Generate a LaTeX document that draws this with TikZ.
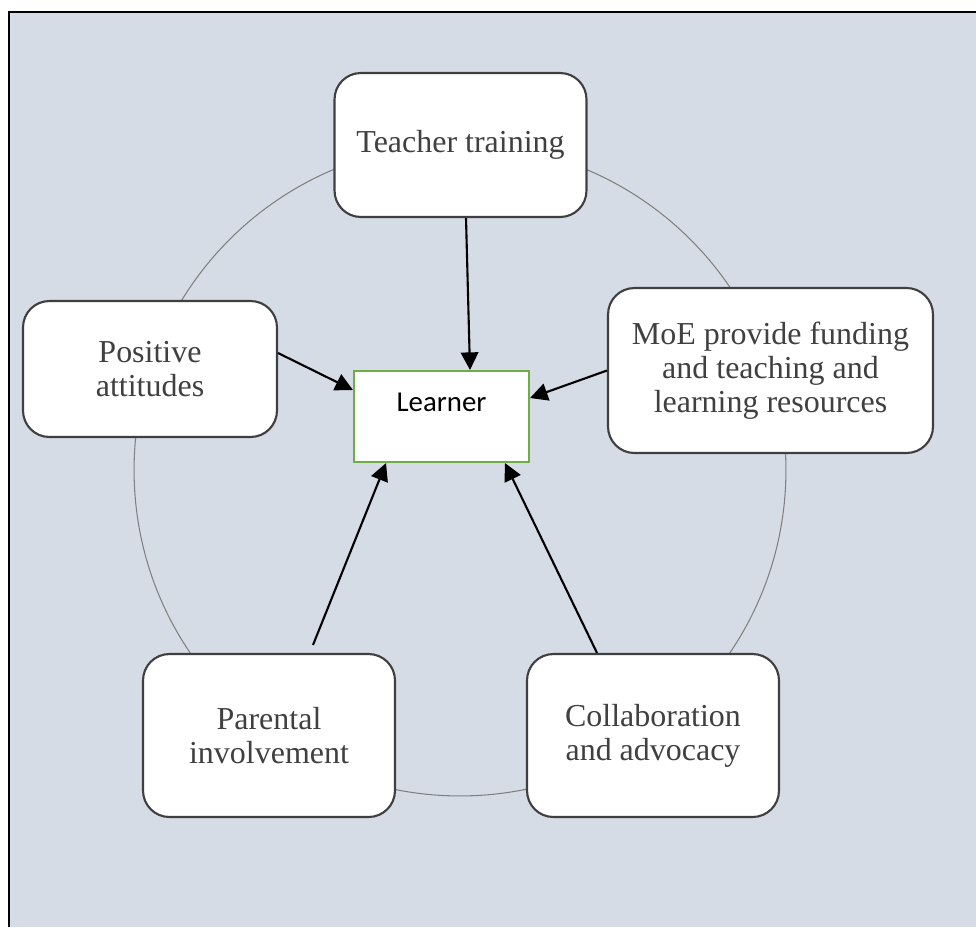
\documentclass[tikz,border=0pt]{standalone}
\usepackage{fontspec}
\setmainfont{Liberation Serif}
\newfontfamily\learnerfont{Carlito}
\usetikzlibrary{arrows.meta}
\definecolor{panel}{HTML}{D6DCE5}
\definecolor{boxline}{HTML}{3F3F3F}
\definecolor{boxtext}{HTML}{404040}
\definecolor{ringgray}{HTML}{808080}
\definecolor{learnergreen}{HTML}{70AD47}

\begin{document}
\begin{tikzpicture}[x=0.02cm,y=-0.02cm]
\tikzstyle{factor node}=[draw=boxline,line width=1.2pt,fill=white,rounded corners=15pt,align=center,text=boxtext,font=\fontsize{18.2}{19.2}\selectfont,inner sep=0pt]
\tikzstyle{learner node}=[draw=learnergreen,line width=1.2pt,fill=white,inner sep=0pt,minimum width=3.5cm,text height=22.8pt,text depth=29pt,font=\learnerfont\fontsize{16.4}{19}\selectfont]
\tikzstyle{push}=[-{Triangle[length=10pt,width=10pt]},line width=1.2pt]
\useasboundingbox (0,0) rectangle (976,927);
\fill[panel] (9,12) rectangle (976,927);
\draw[line width=1.5pt] (9,927) -- (9,12) -- (976,12);
\draw[ringgray,line width=0.6pt] (460,470) circle[radius=6.52cm];
\node(teacher)[factor node,minimum width=5.04cm,minimum height=2.88cm] at (460.5,145) {Teacher training};
\node(attitudes)[factor node,minimum width=5.08cm,minimum height=2.72cm] at (150,369) {Positive\\attitudes};
\node(moe)[factor node,minimum width=6.5cm,minimum height=3.3cm] at (770.5,370.5) {MoE provide funding\\and teaching and\\learning resources};
\node(parental)[factor node,minimum width=5.04cm,minimum height=3.26cm] at (269,735.5) {Parental\\involvement};
\node(collab)[factor node,minimum width=5.04cm,minimum height=3.26cm] at (653,735.5) {Collaboration\\and advocacy};
\node(learner)[learner node] at (441.5,416.5) {Learner};
\draw[push] ([xshift=0.11cm]teacher.south) -- ([xshift=0.57cm]learner.north);
\draw[push] ([yshift=0.32cm]attitudes.east) -- ([yshift=0.53cm]learner.west);
\draw[push] (moe.west) -- ([yshift=0.37cm]learner.east);
\draw[push] ([xshift=0.88cm,yshift=0.16cm]parental.north) -- ([xshift=-1.11cm]learner.south);
\draw[push] ([xshift=-1.12cm]collab.north) -- ([xshift=1.27cm]learner.south);
\end{tikzpicture}
\end{document}
